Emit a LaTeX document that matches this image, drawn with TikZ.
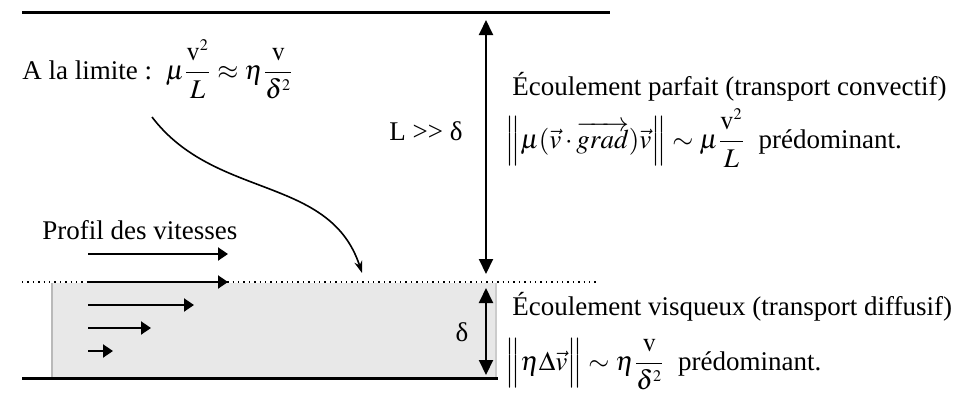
\documentclass[tikz,border=0pt]{standalone}
\usepackage{mathptmx}
\usepackage{fontspec}
\setmainfont{Liberation Serif}
\usetikzlibrary{arrows.meta}
\newcommand{\myfr}[2]{\frac{#1\rule[-4pt]{0pt}{0pt}}{\rule{0pt}{11pt}#2}}
\begin{document}
\begin{tikzpicture}[x=0.5pt,y=-0.5pt,
  font=\fontsize{13.5}{16}\selectfont,
  wall/.style={line width=1.5pt},
  dimarrow/.style={line width=1pt,{Triangle[length=7.5pt,width=7pt]}-{Triangle[length=7.5pt,width=7pt]}},
  vel/.style={line width=1pt,-{Triangle[length=5pt,width=6.5pt]}},
  txt/.style={anchor=base west,inner sep=0pt}]
\useasboundingbox (0,0) rectangle (964,398);
% layer
\fill[gray!18] (52,283) rectangle (496,377);
\draw[gray!55,line width=0.8pt] (52,283) -- (52,377);
\draw[gray!40,line width=0.8pt] (496,283) -- (496,377);
% walls
\coordinate (tl) at (22,12);  \coordinate (tr) at (610,12);
\coordinate (dl) at (22,282); \coordinate (dr) at (597,282);
\coordinate (bl) at (22,378); \coordinate (br) at (498,378);
\draw[wall] (tl) -- (tr);
\draw[wall] (bl) -- (br);
\draw[dotted,line width=0.7pt] (dl) -- (dr);
% dimension arrows
\coordinate (Lt) at (486,20);  \coordinate (Lb) at (486,274);
\coordinate (dt) at (486,288); \coordinate (db) at (486,375);
\draw[dimarrow] (Lt) -- (Lb);
\draw[dimarrow] (dt) -- (db);
\node (Ld) at (426,131) {L >\kern0pt> δ};
\node (dd) at (462,332) {δ};
% velocity profile
\node[txt] (prof) at (42,239) {Profil des vitesses};
\coordinate (p1s) at (88,254); \coordinate (p1e) at (228,254);
\coordinate (p2s) at (88,282); \coordinate (p2e) at (228,282);
\coordinate (p3s) at (88,305); \coordinate (p3e) at (194,305);
\coordinate (p4s) at (88,328); \coordinate (p4e) at (151,328);
\coordinate (p5s) at (88,351); \coordinate (p5e) at (113,351);
\draw[vel] (p1s) -- (p1e);
\draw[vel] (p2s) -- (p2e);
\draw[vel] (p3s) -- (p3e);
\draw[vel] (p4s) -- (p4e);
\draw[vel] (p5s) -- (p5e);
% limit
\node[txt] (lim) at (22,79) {A la limite :\ \ $\displaystyle\mu\myfr{\mathrm{v}^{\scriptscriptstyle 2}}{L}\approx\eta\myfr{\mathrm{v}}{\delta^{\scriptscriptstyle 2}}$};
\coordinate (cs) at (152,117); \coordinate (ce) at (362,273);
\draw[line width=0.8pt,-{Stealth[length=6pt,width=4pt]}] (cs) .. controls (215,200) and (330,175) .. (ce);
% right texts
\node[txt] (ep) at (512,95) {Écoulement parfait (transport convectif)};
\node[txt] (epf) at (505,148) {$\displaystyle\left\|\mu(\vec v\cdot\overrightarrow{grad})\vec v\right\|\sim\mu\myfr{\mathrm{v}^{\scriptscriptstyle 2}}{L}$\ \ prédominant.};
\node[txt] (ev) at (512,315) {Écoulement visqueux (transport diffusif)};
\node[txt] (evf) at (505,370) {$\displaystyle\left\|\vphantom{\overrightarrow{d}g}\eta\Delta\vec v\right\|\sim\eta\myfr{\mathrm{v}}{\delta^{\scriptscriptstyle 2}}$\ \ prédominant.};
\end{tikzpicture}
\end{document}
